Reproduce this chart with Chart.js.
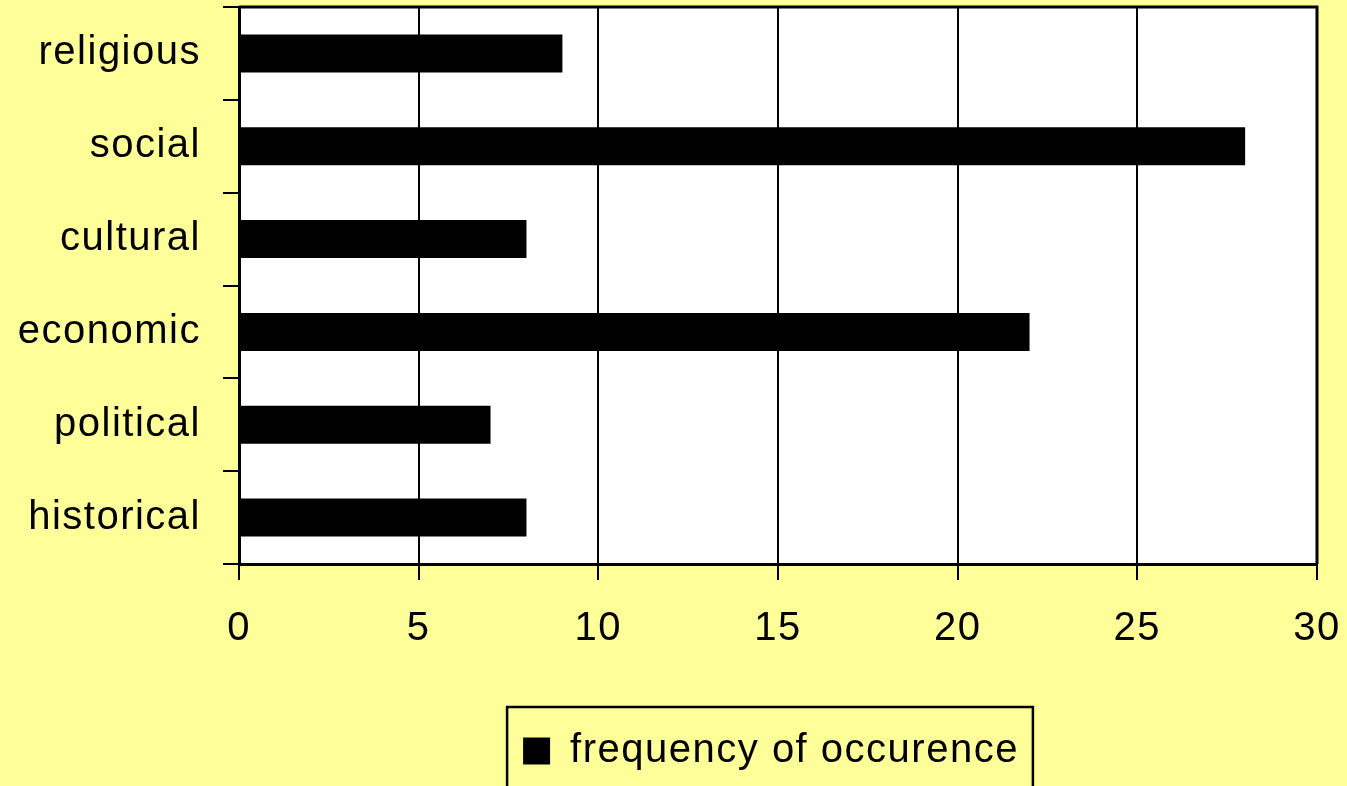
<!DOCTYPE html>
<html lang="en">
<head>
    <meta charset="UTF-8">
    <title>Frequency of occurence</title>
    <script src="https://cdn.jsdelivr.net/npm/chart.js"></script>
    <style>
        body {
            margin: 0;
            background-color: #ffff99;
        }
        .wrap {
            width: 1347px;
            height: 786px;
        }
    </style>
</head>
<body>
    <div class="wrap">
        <canvas id="freqChart" width="1347" height="786"></canvas>
    </div>
    <script>
        const categories = ["religious", "social", "cultural", "economic", "political", "historical"];
        const frequency = [9, 28, 8, 22, 7, 8];
        const seriesName = "frequency of occurence";

        const FONT = { family: "Arial, 'Liberation Sans'", size: 40 };

        // white plot area + black frame, legend centred under the plot with a box round it
        const frame = {
            id: "frame",
            beforeLayout(chart) {
                chart.ctx.letterSpacing = "1.5px";
            },
            afterLayout(chart) {
                const a = chart.chartArea;
                const lg = chart.legend;
                lg.left = a.left - 7;
                lg.right = a.right - 7;
                lg.width = lg.right - lg.left;
                lg.top -= 5;
                lg.bottom -= 5;
            },
            beforeDraw(chart) {
                const a = chart.chartArea;
                const ctx = chart.ctx;
                ctx.letterSpacing = "1.5px";
                ctx.save();
                ctx.fillStyle = "#ffffff";
                ctx.fillRect(a.left, a.top, a.right - a.left, a.bottom - a.top);
                ctx.restore();
            },
            afterDraw(chart) {
                const a = chart.chartArea;
                const ctx = chart.ctx;
                ctx.save();
                ctx.strokeStyle = "#000000";
                ctx.lineWidth = 3;
                ctx.beginPath();
                ctx.moveTo(a.left, a.top);
                ctx.lineTo(a.right, a.top);
                ctx.lineTo(a.right, a.bottom);
                ctx.stroke();
                const hb = chart.legend.legendHitBoxes[0];
                if (hb) {
                    ctx.lineWidth = 2.5;
                    ctx.strokeRect(hb.left - 16, 707, hb.width + 30, 100);
                }
                ctx.restore();
            }
        };

        function noPad(scale) {
            scale.paddingTop = 0;
            scale.paddingBottom = 0;
            scale.paddingLeft = 0;
            scale.paddingRight = 0;
        }

        const ctx = document.getElementById("freqChart").getContext("2d");
        new Chart(ctx, {
            type: "bar",
            data: {
                labels: categories,
                datasets: [{
                    label: seriesName,
                    data: frequency,
                    backgroundColor: "#000000",
                    borderWidth: 0,
                    barPercentage: 0.41,
                    categoryPercentage: 1
                }]
            },
            options: {
                indexAxis: "y",
                responsive: false,
                animation: false,
                layout: {
                    padding: { top: 7, left: 0, right: 30, bottom: 0 }
                },
                plugins: {
                    tooltip: { enabled: false },
                    legend: {
                        position: "bottom",
                        labels: {
                            color: "#000000",
                            font: FONT,
                            boxWidth: 27,
                            boxHeight: 27,
                            padding: 24
                        }
                    }
                },
                scales: {
                    x: {
                        min: 0,
                        max: 30,
                        ticks: {
                            stepSize: 5,
                            color: "#000000",
                            padding: 25,
                            font: FONT
                        },
                        grid: {
                            color: "#000000",
                            lineWidth: 2,
                            tickLength: 16
                        },
                        border: { color: "#000000", width: 3 },
                        afterFit(scale) {
                            scale.height = 148;
                            noPad(scale);
                        }
                    },
                    y: {
                        ticks: {
                            color: "#000000",
                            padding: 22,
                            font: FONT
                        },
                        grid: {
                            offset: true,
                            drawOnChartArea: false,
                            color: "#000000",
                            lineWidth: 2,
                            tickLength: 16
                        },
                        border: { color: "#000000", width: 3 },
                        afterFit(scale) {
                            scale.width = 239;
                            noPad(scale);
                        }
                    }
                }
            },
            plugins: [frame]
        });
    </script>
</body>
</html>
